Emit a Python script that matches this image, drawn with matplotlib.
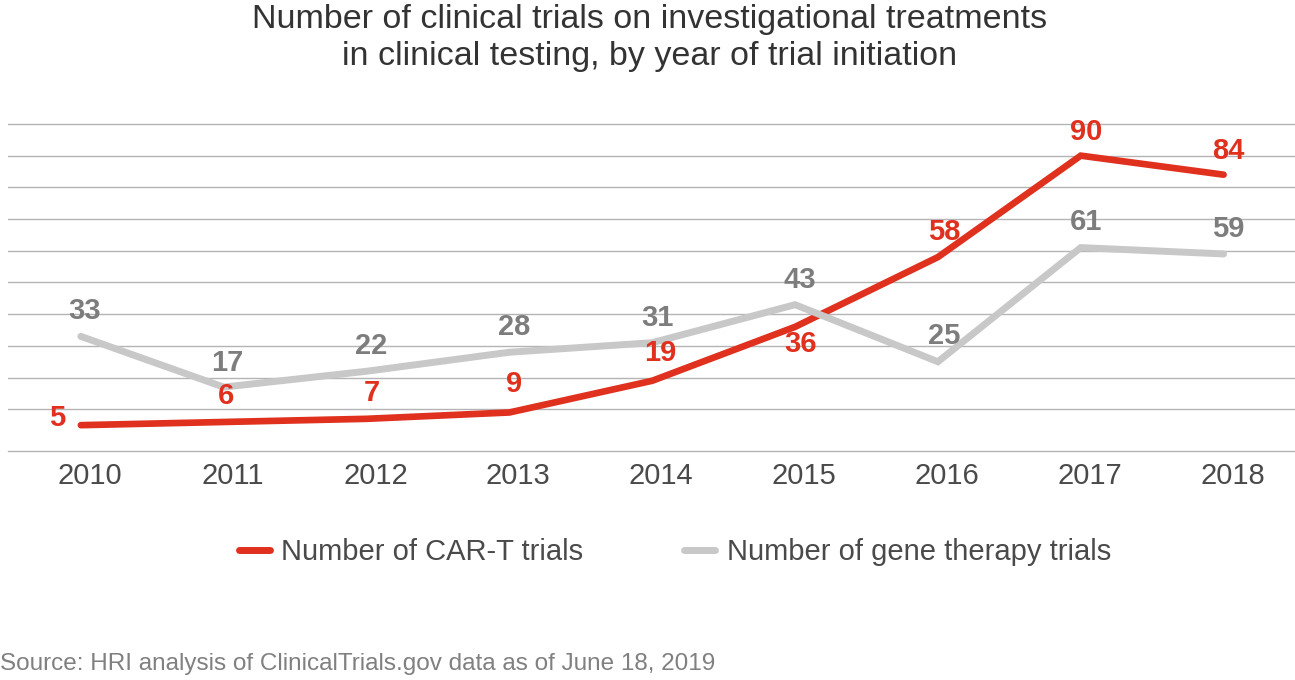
import matplotlib
matplotlib.use('Agg')
import matplotlib.pyplot as plt
from matplotlib.lines import Line2D

years = ['2010', '2011', '2012', '2013', '2014', '2015', '2016', '2017', '2018']
car_t = [5, 6, 7, 9, 19, 36, 58, 90, 84]
gene = [33, 17, 22, 28, 31, 43, 25, 61, 59]

title = 'Number of clinical trials on investigational treatments\nin clinical testing, by year of trial initiation'
car_label = 'Number of CAR-T trials'
gene_label = 'Number of gene therapy trials'
source = 'Source: HRI analysis of ClinicalTrials.gov data as of June 18, 2019'

RED = '#e0301e'
GRAY_LINE = '#c8c8c8'
GRAY_TXT = '#7d7d7d'
DARK = '#4a4a4a'

plt.rcParams['font.family'] = ['Liberation Sans', 'DejaVu Sans']

W, H = 1295, 680
fig = plt.figure(figsize=(W / 100, H / 100), dpi=100)
ax = fig.add_axes([8 / W, (H - 451) / H, (W - 8) / W, (451 - 123) / H])

x = list(range(len(years)))
ax.plot(x, car_t, color=RED, lw=4.8, solid_capstyle='round', solid_joinstyle='miter', zorder=3)
ax.plot(x, gene, color=GRAY_LINE, lw=5.0, solid_capstyle='round', solid_joinstyle='miter', zorder=4)

ax.set_xlim(-0.51, 8.5)
ax.set_ylim(-3.15, 100.3)
ax.set_yticks(range(10, 101, 10))
ax.grid(axis='y', color='#b4b4b4', lw=1.0)
ax.tick_params(axis='y', left=False, labelleft=False)
for s in ['top', 'right', 'left']:
    ax.spines[s].set_visible(False)
ax.spines['bottom'].set_color('#b4b4b4')
ax.spines['bottom'].set_linewidth(1.0)
ax.set_xticks(x)
ax.set_xticklabels(years, fontsize=21, color=DARK)
ax.tick_params(axis='x', length=0, pad=8)
off = matplotlib.transforms.ScaledTranslation(9 / 100, 0, fig.dpi_scale_trans)
for lab in ax.get_xticklabels():
    lab.set_transform(lab.get_transform() + off)

def px(v):
    return v * 72 / 100

car_off = [(-24, 7), (2, 26), (5, 26), (5, 28), (8, 28), (5, -17), (6, 25), (5, 24), (5, 24)]
gene_off = [(4, 25), (4, 24), (5, 25), (5, 25), (5, 25), (5, 25), (6, 26), (5, 26), (5, 25)]
for i, v in enumerate(car_t):
    dx, dy = car_off[i]
    ax.annotate(str(v), (i, v), xytext=(px(dx), px(dy)), textcoords='offset points',
                ha='center', va='center', fontsize=21, fontweight='bold', color=RED, zorder=5)
for i, v in enumerate(gene):
    dx, dy = gene_off[i]
    ax.annotate(str(v), (i, v), xytext=(px(dx), px(dy)), textcoords='offset points',
                ha='center', va='center', fontsize=21, fontweight='bold', color=GRAY_TXT, zorder=5)

fig.text(650 / W, 1 - 38 / H, title, ha='center', va='center', fontsize=24.5,
         color='#333333', linespacing=1.25)

handles = [Line2D([0], [0], color=RED, lw=5, solid_capstyle='round'),
           Line2D([0], [0], color=GRAY_LINE, lw=5, solid_capstyle='round')]
fig.legend(handles, [car_label, gene_label], loc='center', bbox_to_anchor=(675 / W, 1 - 552 / H),
           ncol=2, frameon=False, fontsize=21, handlelength=1.05, handletextpad=0.4,
           columnspacing=3.45, labelcolor=DARK)

fig.text(0, 1 - 664 / H, source, ha='left', va='center', fontsize=17.5, color='#808080')

fig.savefig('out.png', dpi=100)
